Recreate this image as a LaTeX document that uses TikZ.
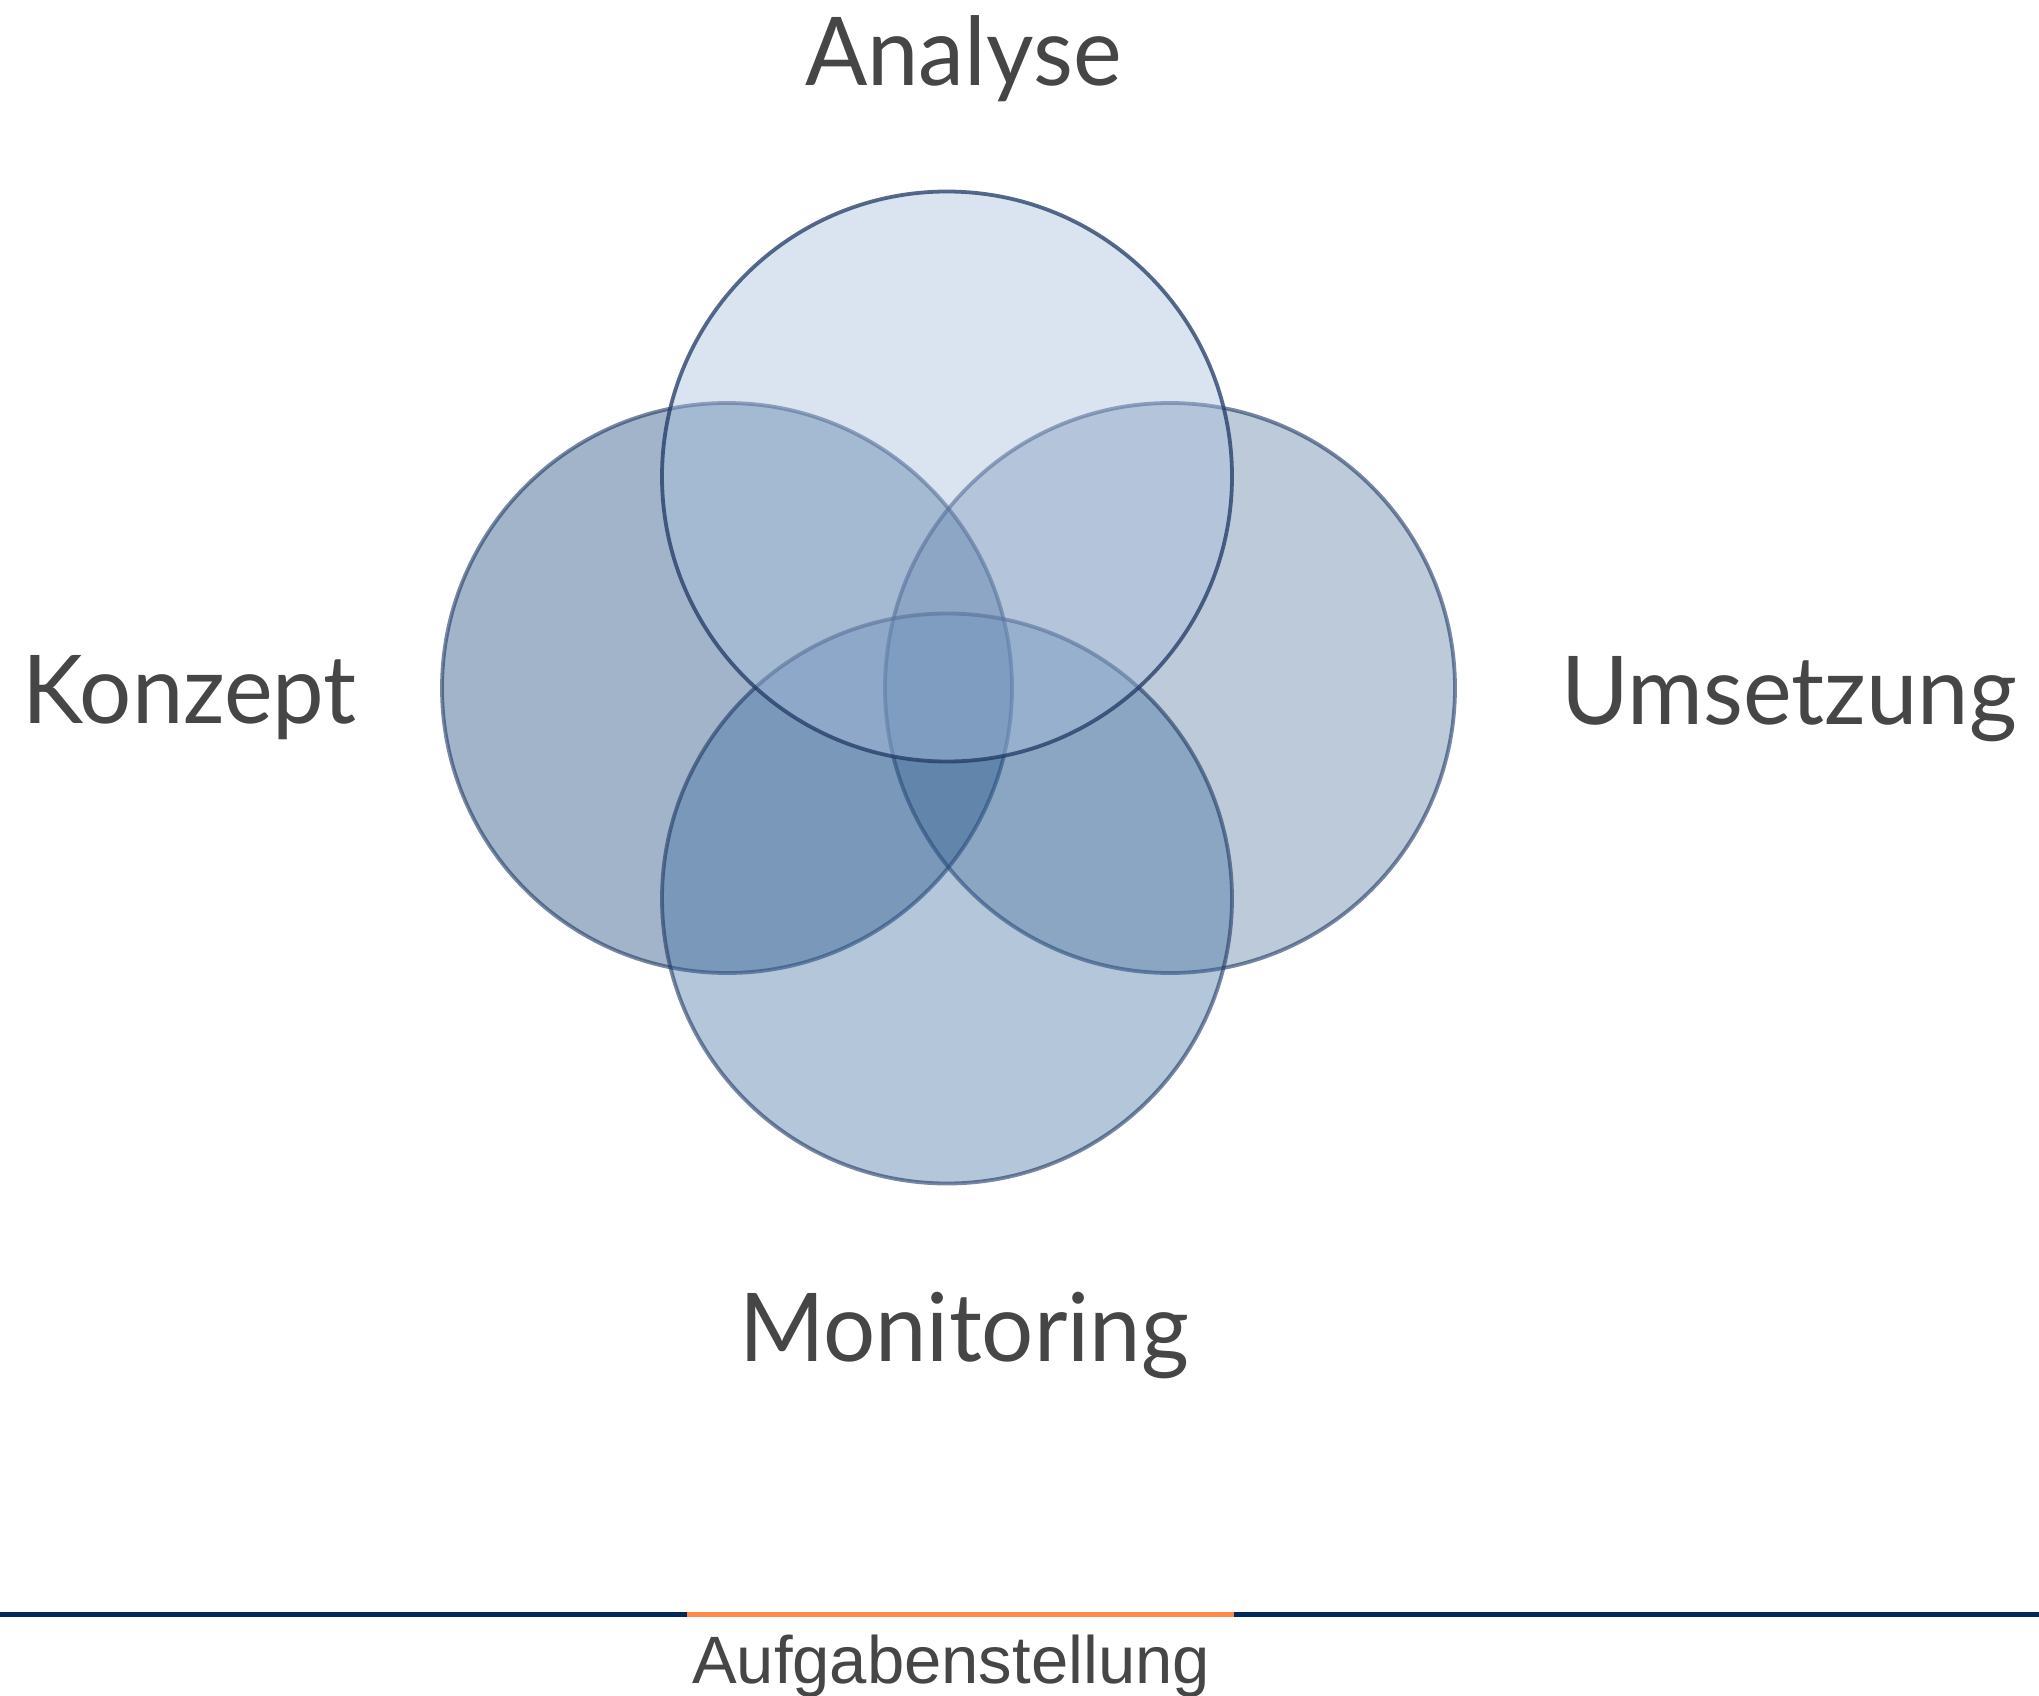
\documentclass[tikz,border=0pt]{standalone}
\usepackage{fontspec}
\setmainfont{Lato}
\newfontfamily\labelfont[FakeStretch=0.97]{Lato}
\newfontfamily\arialfont{Liberation Sans}
\definecolor{edgeblue}{RGB}{31,56,100}
\definecolor{leftfill}{RGB}{31,73,125}
\definecolor{rightfill}{RGB}{31,73,125}
\definecolor{bottomfill}{RGB}{60,110,160}
\definecolor{topfill}{RGB}{168,192,224}
\definecolor{labelgray}{RGB}{70,70,70}
\definecolor{navyline}{RGB}{0,41,90}
\definecolor{orangeline}{RGB}{255,138,69}
\begin{document}
\begin{tikzpicture}[x=1pt,y=-1pt,
  venn/.style={circle, inner sep=0pt, outer sep=0pt, minimum size=570pt,
    line width=3.8pt, draw=edgeblue, draw opacity=0.6},
  lbl/.style={text=labelgray, inner sep=0pt, anchor=base,
    font=\labelfont\fontsize{95}{100}\selectfont},
  rule/.style={line width=5pt},
]
\useasboundingbox (0,0) rectangle (2039,1696);
\fill[white] (0,0) rectangle (2039,1696);

% circles
\node[venn, fill=leftfill, fill opacity=0.41] (konzeptc) at (727,688) {};
\node[venn, fill=rightfill, fill opacity=0.29] (umsetzungc) at (1170,688) {};
\node[venn, fill=bottomfill, fill opacity=0.39] (monitoringc) at (947,898.5) {};
\node[venn, fill=topfill, fill opacity=0.42, draw opacity=0.75] (analysec) at (947,476.5) {};

% labels
\node[lbl] (analyse) at (963.5,86) {Analyse};
\node[lbl, anchor=base west] (konzept) at (22,723) {Konzept};
\node[lbl, anchor=base east] (umsetzung) at (2017,724) {Umsetzung};
\node[lbl] (monitoring) at (964,1361) {Monitoring};

% bottom rule
\coordinate (ruleL) at (0,1614);
\coordinate (ruleR) at (2039,1614);
\coordinate (orangeL) at (687,1614.5);
\coordinate (orangeR) at (1234,1614.5);
\draw[rule, navyline] (ruleL) -- (ruleR);
\draw[rule, orangeline, line width=5.5pt] (orangeL) -- (orangeR);

\node[text=labelgray, inner sep=0pt, anchor=base, font=\arialfont\fontsize{67}{70}\selectfont] (aufgabe) at (951,1683) {Aufgabenstellung};
\end{tikzpicture}
\end{document}
